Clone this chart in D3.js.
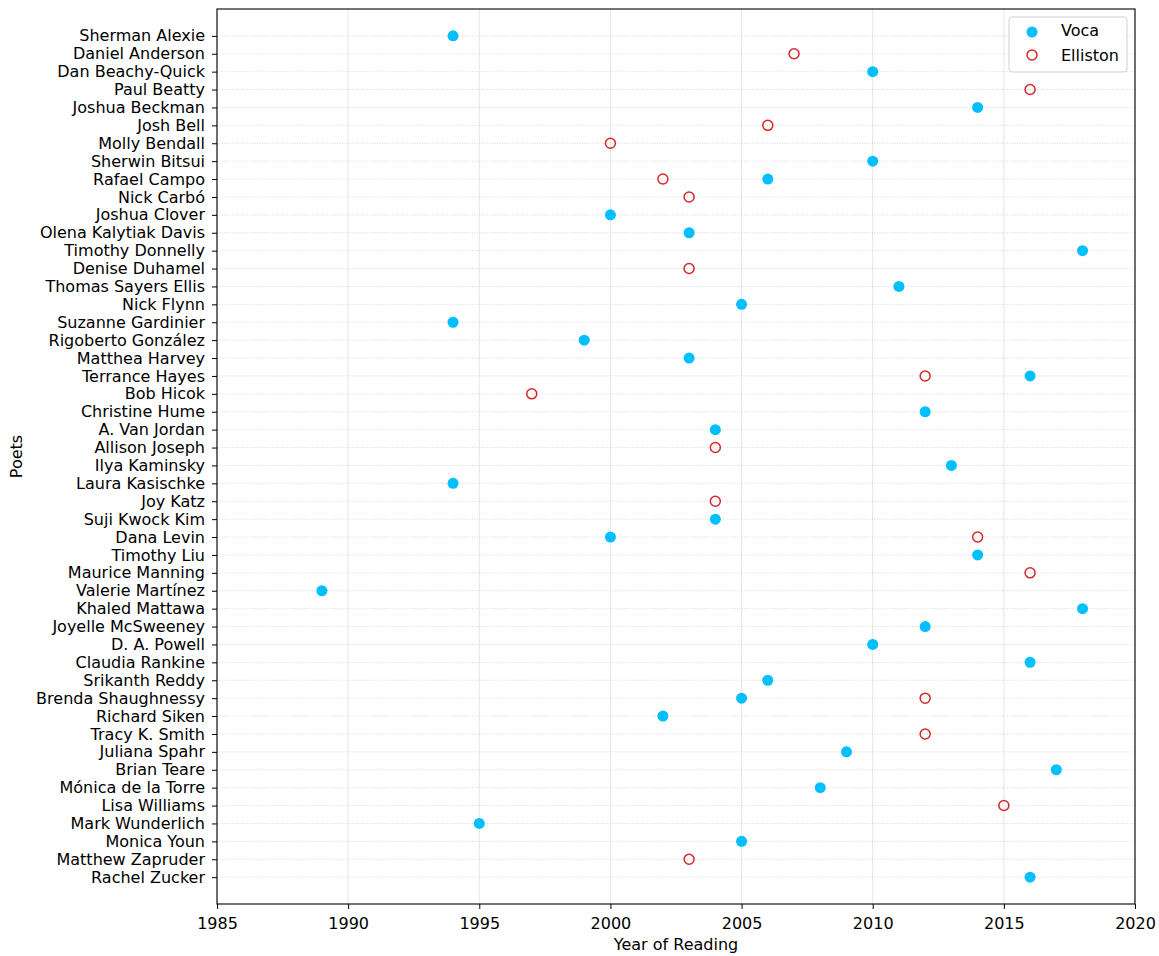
<!DOCTYPE html>
<html><head><meta charset="utf-8">
<script src="https://cdn.jsdelivr.net/npm/d3@7"></script>
<style>body{margin:0;background:#fff}svg{display:block}text{font-family:"DejaVu Sans",sans-serif}</style>
</head><body><svg id="c" width="1159" height="956"></svg>
<script>
const poets = ["Sherman Alexie","Daniel Anderson","Dan Beachy-Quick","Paul Beatty","Joshua Beckman","Josh Bell","Molly Bendall","Sherwin Bitsui","Rafael Campo","Nick Carbó","Joshua Clover","Olena Kalytiak Davis","Timothy Donnelly","Denise Duhamel","Thomas Sayers Ellis","Nick Flynn","Suzanne Gardinier","Rigoberto González","Matthea Harvey","Terrance Hayes","Bob Hicok","Christine Hume","A. Van Jordan","Allison Joseph","Ilya Kaminsky","Laura Kasischke","Joy Katz","Suji Kwock Kim","Dana Levin","Timothy Liu","Maurice Manning","Valerie Martínez","Khaled Mattawa","Joyelle McSweeney","D. A. Powell","Claudia Rankine","Srikanth Reddy","Brenda Shaughnessy","Richard Siken","Tracy K. Smith","Juliana Spahr","Brian Teare","Mónica de la Torre","Lisa Williams","Mark Wunderlich","Monica Youn","Matthew Zapruder","Rachel Zucker"];
// null = no reading in that series
const vocaYears = [1994,null,2010,null,2014,null,null,2010,2006,null,2000,2003,2018,null,2011,2005,1994,1999,2003,2016,null,2012,2004,null,2013,1994,null,2004,2000,2014,null,1989,2018,2012,2010,2016,2006,2005,2002,null,2009,2017,2008,null,1995,2005,null,2016];
const ellistonYears = [null,2007,null,2016,null,2006,2000,null,2002,2003,null,null,null,2003,null,null,null,null,null,2012,1997,null,null,2004,null,null,2004,null,2014,null,2016,null,null,null,null,null,null,2012,null,2012,null,null,null,2015,null,null,2003,null];
const xTicks = [1985,1990,1995,2000,2005,2010,2015,2020];

const svg = d3.select("#c");
const L=217,R=1135,T=9,B=904;
const FS=16;
const x = d3.scaleLinear().domain([1985,2020]).range([L,R]);
const y = d3.scaleLinear().domain([-1.5,poets.length+0.5]).range([T,B]);
const g = svg.append("g");

// grid
g.selectAll(".vg").data(xTicks).join("line").attr("x1",d=>x(d)).attr("x2",d=>x(d)).attr("y1",T).attr("y2",B)
 .attr("stroke","#b0b0b0").attr("stroke-opacity",0.4).attr("stroke-width",0.8);
g.selectAll(".hg").data(poets).join("line").attr("x1",L).attr("x2",R).attr("y1",(d,i)=>y(i)).attr("y2",(d,i)=>y(i))
 .attr("stroke","#b0b0b0").attr("stroke-opacity",0.6).attr("stroke-width",0.8).attr("stroke-dasharray","1,1.5");

// axes
const xa = svg.append("g").attr("transform",`translate(0,${B})`)
 .call(d3.axisBottom(x).tickValues(xTicks).tickFormat(d3.format("d")).tickSize(5).tickPadding(5));
const ya = svg.append("g").attr("transform",`translate(${L},0)`)
 .call(d3.axisLeft(y).tickValues(d3.range(poets.length)).tickFormat(i=>poets[i]).tickSize(5).tickPadding(7));
[xa,ya].forEach(a=>{a.select(".domain").remove();a.selectAll("text").attr("font-size",FS).attr("fill","#000").attr("font-family","DejaVu Sans");a.selectAll("line").attr("stroke","#000").attr("stroke-width",1);});
xa.selectAll("text").attr("dy","0.95em");
svg.append("rect").attr("x",L).attr("y",T).attr("width",R-L).attr("height",B-T).attr("fill","none").attr("stroke","#000").attr("stroke-width",1.1);

// points
const vData = poets.map((p,i)=>({i,v:vocaYears[i]})).filter(d=>d.v!=null);
const eData = poets.map((p,i)=>({i,v:ellistonYears[i]})).filter(d=>d.v!=null);
svg.selectAll(".v").data(vData).join("circle").attr("cx",d=>x(d.v)).attr("cy",d=>y(d.i)).attr("r",5.5).attr("fill","#00bfff");
svg.selectAll(".e").data(eData).join("circle").attr("cx",d=>x(d.v)).attr("cy",d=>y(d.i)).attr("r",5).attr("fill","none").attr("stroke","#d62728").attr("stroke-width",1.5);

// labels
svg.append("text").attr("x",(L+R)/2).attr("y",950).attr("text-anchor","middle").attr("font-size",FS).text("Year of Reading");
svg.append("text").attr("transform",`translate(22,${(T+B)/2}) rotate(-90)`).attr("text-anchor","middle").attr("font-size",FS).text("Poets");

// legend
const lg = svg.append("g");
lg.append("rect").attr("x",1009).attr("y",17).attr("width",118).attr("height",55).attr("rx",3).attr("fill","#fff").attr("fill-opacity",0.8).attr("stroke","#d0d0d0");
lg.append("circle").attr("cx",1032).attr("cy",32).attr("r",5.5).attr("fill","#00bfff");
lg.append("circle").attr("cx",1032).attr("cy",55).attr("r",5).attr("fill","none").attr("stroke","#d62728").attr("stroke-width",1.5);
lg.append("text").attr("x",1061).attr("y",36).attr("font-size",FS).text("Voca");
lg.append("text").attr("x",1061).attr("y",61).attr("font-size",FS).text("Elliston");
</script></body></html>
